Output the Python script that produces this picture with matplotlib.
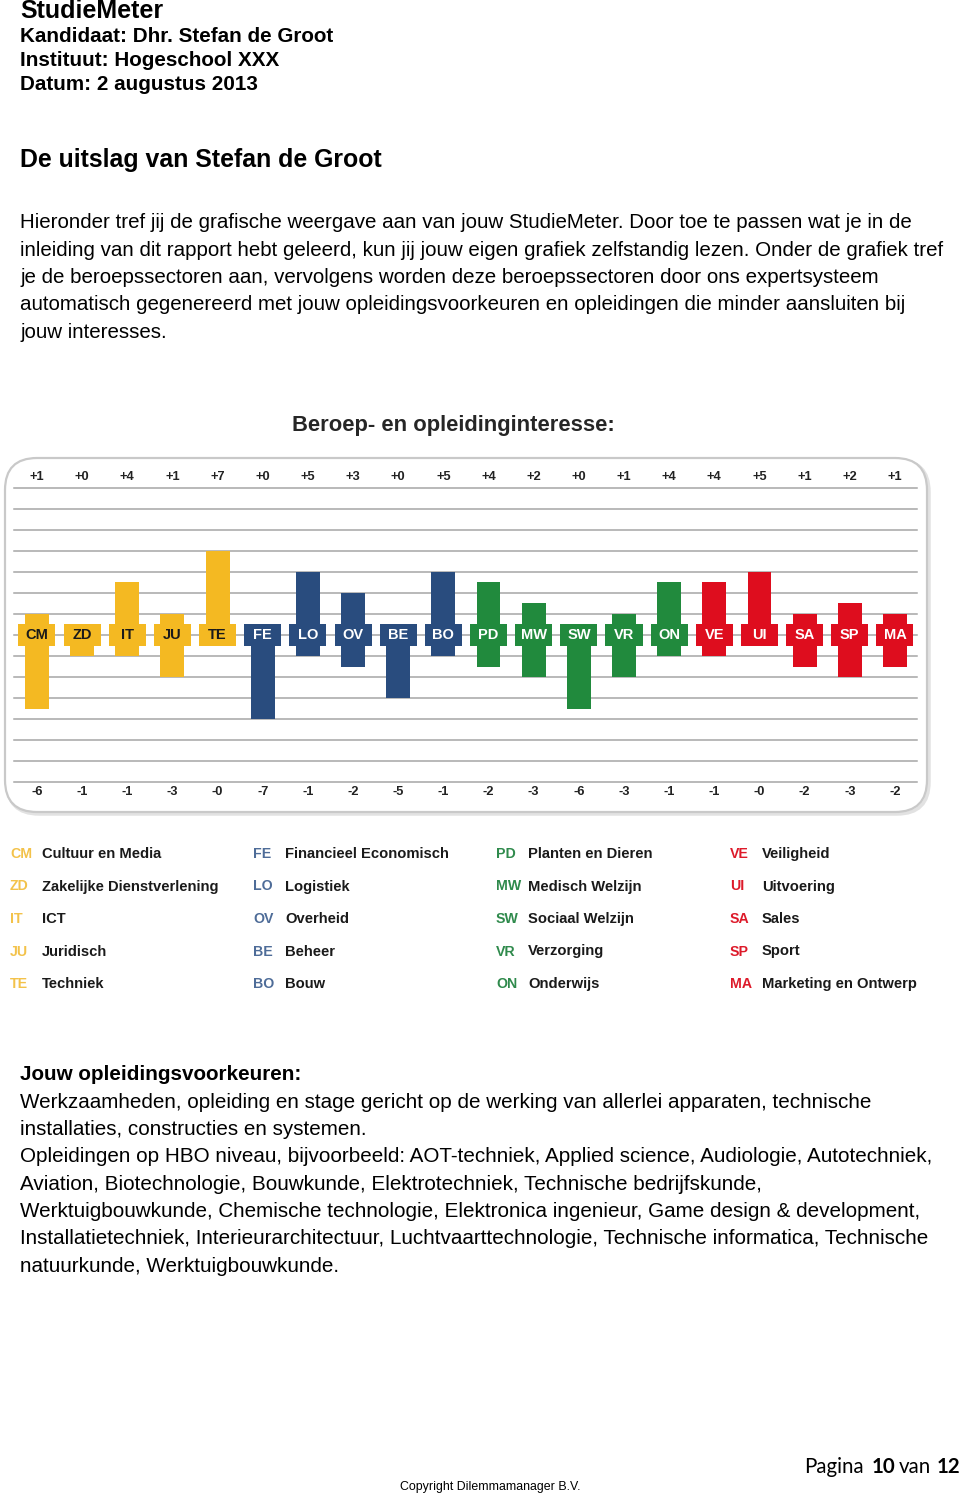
import matplotlib
matplotlib.use("Agg")
import matplotlib.pyplot as plt
from matplotlib.patches import FancyBboxPatch

# Sector data
codes = ["CM", "ZD", "IT", "JU", "TE", "FE", "LO", "OV", "BE", "BO",
         "PD", "MW", "SW", "VR", "ON", "VE", "UI", "SA", "SP", "MA"]
up_values = [1, 0, 4, 1, 7, 0, 5, 3, 0, 5, 4, 2, 0, 1, 4, 4, 5, 1, 2, 1]
down_values = [6, 1, 1, 3, 0, 7, 1, 2, 5, 1, 2, 3, 6, 3, 1, 1, 0, 2, 3, 2]
groups = ["geel"] * 5 + ["blauw"] * 5 + ["groen"] * 5 + ["rood"] * 5

legend_names = [
    ["Cultuur en Media", "Zakelijke Dienstverlening", "ICT", "Juridisch", "Techniek"],
    ["Financieel Economisch", "Logistiek", "Overheid", "Beheer", "Bouw"],
    ["Planten en Dieren", "Medisch Welzijn", "Sociaal Welzijn", "Verzorging", "Onderwijs"],
    ["Veiligheid", "Uitvoering", "Sales", "Sport", "Marketing en Ontwerp"],
]

bar_colors = {"geel": "#F4B922", "blauw": "#294C7E", "groen": "#218A3D", "rood": "#DE0D1E"}
code_colors = {"geel": "#F3C24A", "blauw": "#4E6C98", "groen": "#2F8A4C", "rood": "#DD1A2A"}
label_colors = {"geel": "#1a1a1a", "blauw": "white", "groen": "white", "rood": "white"}

FONT = "Liberation Sans"
plt.rcParams["font.family"] = [FONT, "DejaVu Sans"]

fig = plt.figure(figsize=(9.6, 14.94), dpi=100)

# background axes in pixel coordinates for page text
bg = fig.add_axes([0, 0, 1, 1])
bg.set_xlim(0, 960)
bg.set_ylim(1494, 0)
bg.axis("off")

# header
bg.text(20, 11, "StudieMeter", fontsize=18, fontweight="bold", va="center")
for y, s in [(37, "Kandidaat: Dhr. Stefan de Groot"),
             (60, "Instituut: Hogeschool XXX"),
             (84, "Datum: 2 augustus 2013")]:
    bg.text(20, y, s, fontsize=14.9, fontweight="bold", va="center")
bg.text(20, 160, "De uitslag van Stefan de Groot", fontsize=17.9, fontweight="bold", va="center")

intro = [
    "Hieronder tref jij de grafische weergave aan van jouw StudieMeter. Door toe te passen wat je in de",
    "inleiding van dit rapport hebt geleerd, kun jij jouw eigen grafiek zelfstandig lezen. Onder de grafiek tref",
    "je de beroepssectoren aan, vervolgens worden deze beroepssectoren door ons expertsysteem",
    "automatisch gegenereerd met jouw opleidingsvoorkeuren en opleidingen die minder aansluiten bij",
    "jouw interesses.",
]
for i, s in enumerate(intro):
    bg.text(20, 223 + i * 27.3, s, fontsize=14.8, va="center")

# chart title
bg.text(453, 425, "Beroep- en opleidinginteresse:", fontsize=15.8, color="#262626",
        fontweight="bold", ha="center", va="center")

# rounded frame with a faint shadow
shadow = FancyBboxPatch((7, 460), 922, 354, boxstyle="round,pad=0,rounding_size=32",
                        facecolor="none", edgecolor="#e2e2e2", linewidth=2.5, zorder=0.5)
bg.add_patch(shadow)
frame = FancyBboxPatch((5, 458), 922, 354, boxstyle="round,pad=0,rounding_size=32",
                       facecolor="white", edgecolor="#c9c9c9", linewidth=1.6, zorder=1)
bg.add_patch(frame)

# chart axes
ax = fig.add_axes([5 / 960, (1494 - 812) / 1494, 922 / 960, 354 / 1494])
ax.patch.set_alpha(0)
ax.set_xlim(-0.708, 19.71)
ax.set_ylim(-8.41, 8.41)
ax.axis("off")

n = len(codes)
for k in range(-7, 8):
    ax.plot([-0.51, n - 0.51], [k, k], color="#a6a6a6", linewidth=1.1, zorder=1)

for i, code in enumerate(codes):
    g = groups[i]
    c = bar_colors[g]
    up = (up_values[i] + 1) / 2
    down = (down_values[i] + 1) / 2
    ax.bar(i, up, width=0.53, bottom=0, color=c, zorder=2)
    ax.bar(i, -down, width=0.53, bottom=0, color=c, zorder=2)
    ax.bar(i, 1.04, width=0.82, bottom=-0.52, color=c, zorder=3)
    ax.text(i, 0, code, ha="center", va="center", fontsize=10.5, fontweight="bold",
            color=label_colors[g], zorder=4)
    ax.text(i, 7.5, "+%d" % up_values[i], ha="center", va="center", fontsize=9.3,
            fontweight="bold", color="#222222")
    ax.text(i, -7.45, "-%d" % down_values[i], ha="center", va="center", fontsize=9.3,
            fontweight="bold", color="#222222")

# legend
col_x = [10, 253, 496, 730]
for col in range(4):
    for row in range(5):
        idx = col * 5 + row
        y = 854 + row * 32.5
        bg.text(col_x[col], y, codes[idx], fontsize=10.2, fontweight="bold",
                color=code_colors[groups[idx]], va="center")
        bg.text(col_x[col] + 32, y, legend_names[col][row], fontsize=10.6,
                fontweight="bold", color="#1a1a1a", va="center")

# preferences text
bg.text(20, 1075, "Jouw opleidingsvoorkeuren:", fontsize=14.9, fontweight="bold", va="center")
prefs = [
    "Werkzaamheden, opleiding en stage gericht op de werking van allerlei apparaten, technische",
    "installaties, constructies en systemen.",
    "Opleidingen op HBO niveau, bijvoorbeeld: AOT-techniek, Applied science, Audiologie, Autotechniek,",
    "Aviation, Biotechnologie, Bouwkunde, Elektrotechniek, Technische bedrijfskunde,",
    "Werktuigbouwkunde, Chemische technologie, Elektronica ingenieur, Game design & development,",
    "Installatietechniek, Interieurarchitectuur, Luchtvaarttechnologie, Technische informatica, Technische",
    "natuurkunde, Werktuigbouwkunde.",
]
for i, s in enumerate(prefs):
    bg.text(20, 1102 + i * 27.4, s, fontsize=14.9, va="center")

# footer
foot = dict(fontsize=14.8, va="center", family=["Lato", "DejaVu Sans"])
bg.text(804, 1467, "Pagina", **foot)
bg.text(872, 1467, "10", fontweight="bold", **foot)
bg.text(899, 1467, "van", **foot)
bg.text(937, 1467, "12", fontweight="bold", **foot)
bg.text(490, 1487, "Copyright Dilemmamanager B.V.", fontsize=8.9, ha="center", va="center")

fig.savefig("out.png", dpi=100)
